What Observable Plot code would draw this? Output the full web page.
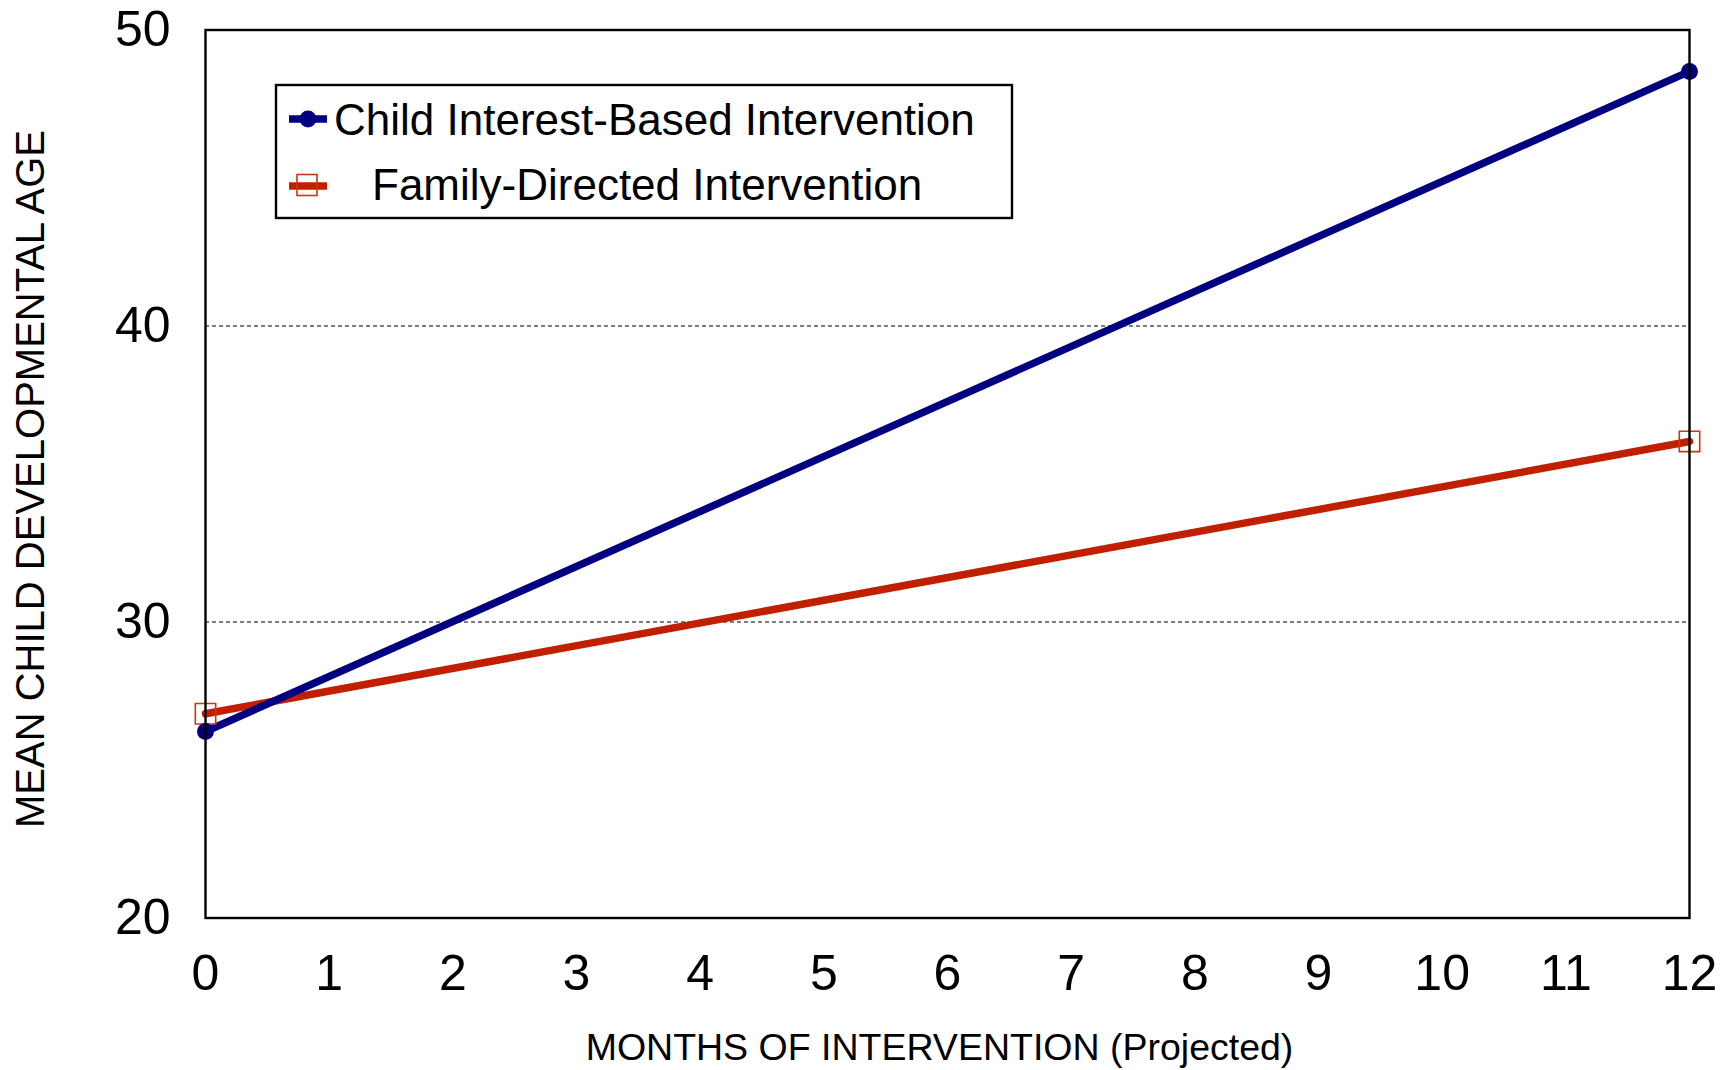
<!DOCTYPE html>
<html>
<head>
<meta charset="utf-8">
<script src="https://cdn.jsdelivr.net/npm/d3@7"></script>
<script src="https://cdn.jsdelivr.net/npm/@observablehq/plot@0.6"></script>
<style>
  html, body { margin: 0; padding: 0; background: #fff; }
  #chart { width: 1733px; height: 1070px; }
</style>
</head>
<body>
<div id="chart"></div>
<script>
// ---- Data ----
const months = [0, 12];
const childInterest = [26.3, 48.6];
const familyDirected = [26.9, 36.1];
const seriesNames = ["Child Interest-Based Intervention", "Family-Directed Intervention"];
const xTicks = [0, 1, 2, 3, 4, 5, 6, 7, 8, 9, 10, 11, 12];
const yTicks = [20, 30, 40, 50];
const gridValues = [30, 40];
const xTitle = "MONTHS OF INTERVENTION (Projected)";
const yTitle = "MEAN CHILD DEVELOPMENTAL AGE";

const blue = "#000080";
const red = "#c02000";
const redMarker = "#cc3318";

const childData = months.map((m, i) => ({month: m, value: childInterest[i]}));
const familyData = months.map((m, i) => ({month: m, value: familyDirected[i]}));

const font = "'Liberation Sans', Arial, Helvetica, sans-serif";

const svg = Plot.plot({
  width: 1733,
  height: 1070,
  marginLeft: 205,
  marginRight: 44,
  marginTop: 29.5,
  marginBottom: 152.5,
  style: {fontFamily: font, background: "white", color: "black", overflow: "visible"},
  x: {domain: [0, 12], label: null},
  y: {domain: [20, 50], label: null},
  marks: [
    Plot.ruleY(gridValues, {stroke: "black", strokeWidth: 1.2, strokeDasharray: "4,3"}),
    Plot.line(familyData, {x: "month", y: "value", stroke: red, strokeWidth: 7.5}),
    Plot.line(childData, {x: "month", y: "value", stroke: blue, strokeWidth: 7.5}),
    Plot.dot(familyData, {x: "month", y: "value", symbol: "square", r: 11.5, stroke: redMarker, strokeWidth: 1.6, fill: "none"}),
    Plot.dot(childData, {x: "month", y: "value", r: 8.5, fill: blue}),
    Plot.frame({stroke: "black", strokeWidth: 2.4}),
    Plot.axisY(yTicks, {tickSize: 0, tickPadding: 35, fontSize: 50, label: null, tickFormat: d => String(d)}),
    Plot.axisX(xTicks, {tickSize: 0, tickPadding: 36, fontSize: 50, label: null, tickFormat: d => String(d)}),
    Plot.text([xTitle], {frameAnchor: "bottom", dy: 129.5, dx: -8, fontSize: 37.5, lineAnchor: "middle", textAnchor: "middle", fill: "black"}),
    Plot.text([yTitle], {frameAnchor: "left", dx: -174, dy: 5, rotate: -90, fontSize: 40, lineAnchor: "middle", textAnchor: "middle", fill: "black"})
  ]
});

// ---- Legend (drawn inside the SVG) ----
const g = d3.select(svg).append("g").attr("font-family", font).attr("text-anchor", "start");
g.append("rect").attr("x", 276).attr("y", 85).attr("width", 736).attr("height", 133)
  .attr("fill", "white").attr("stroke", "black").attr("stroke-width", 2.4);
// row 1
g.append("line").attr("x1", 289).attr("x2", 327).attr("y1", 119).attr("y2", 119)
  .attr("stroke", blue).attr("stroke-width", 7.5);
g.append("circle").attr("cx", 308).attr("cy", 119).attr("r", 8.5).attr("fill", blue);
g.append("text").attr("x", 334).attr("y", 135).attr("font-size", 44).attr("fill", "black")
  .attr("text-anchor", "start").text(seriesNames[0]);
// row 2
g.append("line").attr("x1", 289).attr("x2", 327).attr("y1", 186).attr("y2", 186)
  .attr("stroke", red).attr("stroke-width", 7.5);
g.append("rect").attr("x", 297).attr("y", 174.5).attr("width", 20).attr("height", 21)
  .attr("fill", "none").attr("stroke", redMarker).attr("stroke-width", 1.6);
g.append("text").attr("x", 372).attr("y", 200).attr("font-size", 44).attr("fill", "black")
  .attr("text-anchor", "start").text(seriesNames[1]);

document.getElementById("chart").appendChild(svg);
</script>
</body>
</html>
